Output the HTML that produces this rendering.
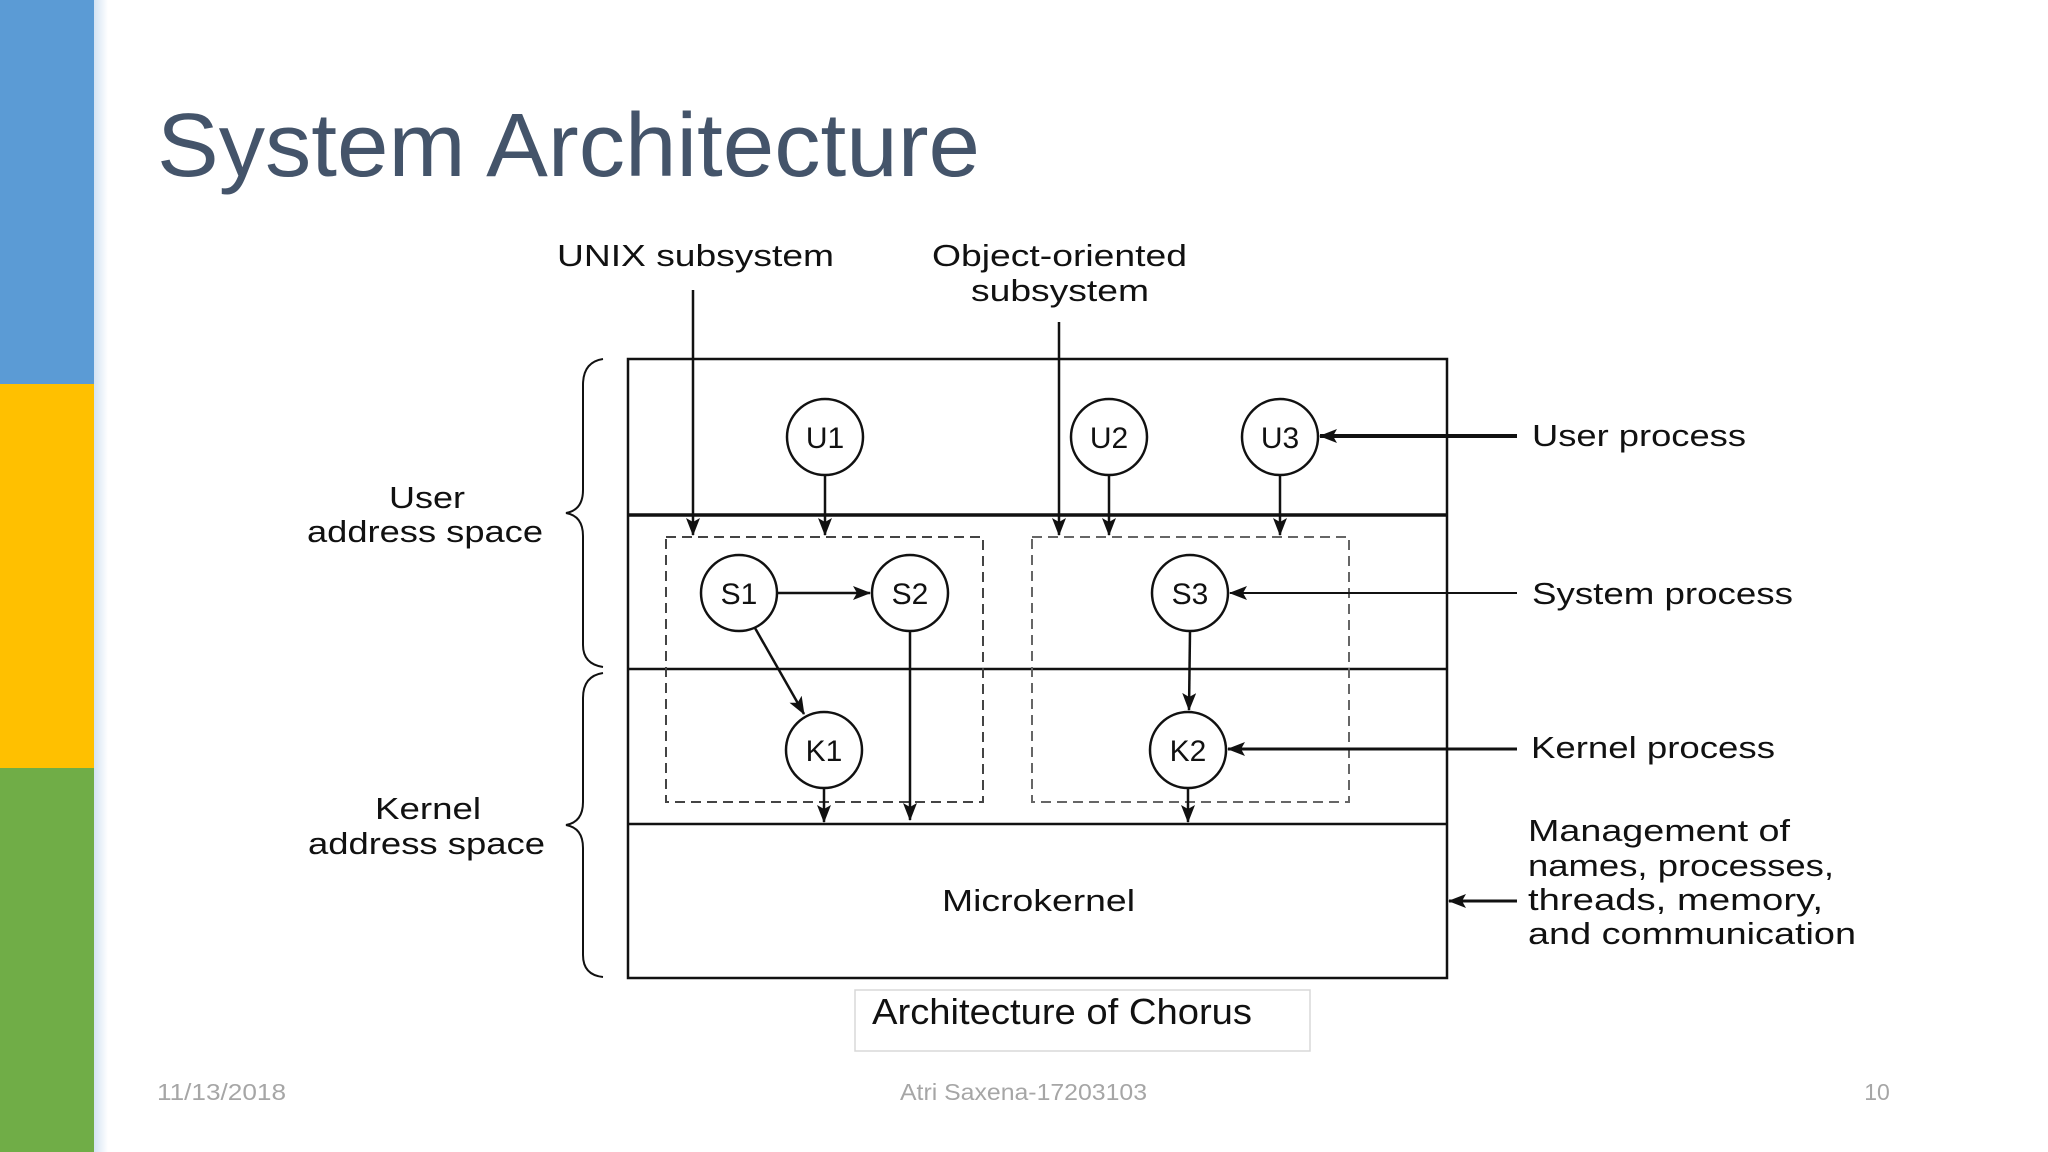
<!DOCTYPE html>
<html><head><meta charset="utf-8"><style>
html,body{margin:0;padding:0;background:#fff;}
svg{display:block;}
</style></head><body>
<svg width="2048" height="1152" viewBox="0 0 2048 1152" xmlns="http://www.w3.org/2000/svg">
<defs>
<marker id="a" markerWidth="18" markerHeight="14" refX="17" refY="7" orient="auto" markerUnits="userSpaceOnUse">
<path d="M0,0 L18,7 L0,14 L4,7 Z" fill="#111"/>
</marker>
<linearGradient id="fade" x1="0" x2="1" y1="0" y2="0">
<stop offset="0" stop-color="#c9dcf0"/><stop offset="1" stop-color="#fff"/>
</linearGradient>
</defs>
<rect width="2048" height="1152" fill="#fff"/>
<rect x="0" y="0" width="94" height="384" fill="#5b9bd5"/>
<rect x="0" y="384" width="94" height="384" fill="#ffc000"/>
<rect x="0" y="768" width="94" height="384" fill="#70ad47"/>
<rect x="94" y="0" width="14" height="1152" fill="url(#fade)" opacity="0.8"/>

<text x="157" y="176" font-family="Liberation Sans, sans-serif" font-size="90" fill="#44546a" textLength="823" lengthAdjust="spacingAndGlyphs">System Architecture</text>

<g font-family="Liberation Sans, sans-serif" font-size="31" fill="#111" stroke="none" lengthAdjust="spacingAndGlyphs">
<text x="557" y="266" textLength="277" lengthAdjust="spacingAndGlyphs">UNIX subsystem</text>
<text x="932" y="266" textLength="255" lengthAdjust="spacingAndGlyphs">Object-oriented</text>
<text x="971" y="301" textLength="178" lengthAdjust="spacingAndGlyphs">subsystem</text>
<text x="389" y="508" textLength="76" lengthAdjust="spacingAndGlyphs">User</text>
<text x="307" y="542" textLength="236" lengthAdjust="spacingAndGlyphs">address space</text>
<text x="375" y="819" textLength="106" lengthAdjust="spacingAndGlyphs">Kernel</text>
<text x="308" y="854" textLength="237" lengthAdjust="spacingAndGlyphs">address space</text>
<text x="1532" y="446" textLength="214" lengthAdjust="spacingAndGlyphs">User process</text>
<text x="1532" y="604" textLength="261" lengthAdjust="spacingAndGlyphs">System process</text>
<text x="1531" y="758" textLength="244" lengthAdjust="spacingAndGlyphs">Kernel process</text>
<text x="1528" y="841" textLength="262" lengthAdjust="spacingAndGlyphs">Management of</text>
<text x="1528" y="876" textLength="306" lengthAdjust="spacingAndGlyphs">names, processes,</text>
<text x="1528" y="910" textLength="295" lengthAdjust="spacingAndGlyphs">threads, memory,</text>
<text x="1528" y="944" textLength="328" lengthAdjust="spacingAndGlyphs">and communication</text>
<text x="942" y="911" textLength="193" lengthAdjust="spacingAndGlyphs">Microkernel</text>
</g>

<g fill="none" stroke="#111" stroke-width="2.5">
<rect x="628" y="359" width="819" height="619"/>
<line x1="628" y1="515" x2="1447" y2="515" stroke-width="3.5"/>
<line x1="628" y1="669" x2="1447" y2="669"/>
<line x1="628" y1="824" x2="1447" y2="824"/>
<rect x="666" y="537" width="317" height="265" stroke-dasharray="10,6" stroke="#444" stroke-width="2"/>
<rect x="1032" y="537" width="317" height="265" stroke-dasharray="10,6" stroke="#666" stroke-width="2"/>
<path d="M603,359 Q583,362 583,385 L583,490 Q583,510 566,513 Q583,516 583,536 L583,645 Q583,664 603,667" stroke-width="2"/>
<path d="M603,673 Q583,676 583,698 L583,802 Q583,822 566,825 Q583,828 583,848 L583,955 Q583,975 603,977" stroke-width="2"/>
</g>

<g fill="#fff" stroke="#111" stroke-width="2.5">
<circle cx="825" cy="437" r="38"/>
<circle cx="1109" cy="437" r="38"/>
<circle cx="1280" cy="437" r="38"/>
<circle cx="739" cy="593" r="38"/>
<circle cx="910" cy="593" r="38"/>
<circle cx="1190" cy="593" r="38"/>
<circle cx="824" cy="750" r="38"/>
<circle cx="1188" cy="750" r="38"/>
</g>
<g font-family="Liberation Sans, sans-serif" font-size="30" fill="#111" text-anchor="middle">
<text x="825" y="448">U1</text>
<text x="1109" y="448">U2</text>
<text x="1280" y="448">U3</text>
<text x="739" y="604">S1</text>
<text x="910" y="604">S2</text>
<text x="1190" y="604">S3</text>
<text x="824" y="761">K1</text>
<text x="1188" y="761">K2</text>
</g>

<g stroke="#111" stroke-width="2.5" marker-end="url(#a)" fill="none">
<line x1="693" y1="290" x2="693" y2="535"/>
<line x1="1059" y1="322" x2="1059" y2="535"/>
<line x1="825" y1="475" x2="825" y2="535"/>
<line x1="1109" y1="475" x2="1109" y2="535"/>
<line x1="1280" y1="475" x2="1280" y2="535"/>
<line x1="777" y1="593" x2="870" y2="593"/>
<line x1="755" y1="628" x2="804" y2="714"/>
<line x1="910" y1="631" x2="910" y2="820"/>
<line x1="1190" y1="631" x2="1189" y2="710"/>
<line x1="824" y1="788" x2="824" y2="822"/>
<line x1="1188" y1="788" x2="1188" y2="822"/>
<line x1="1517" y1="436" x2="1320" y2="436" stroke-width="4"/>
<line x1="1517" y1="593" x2="1230" y2="593" stroke-width="2"/>
<line x1="1517" y1="749" x2="1228" y2="749" stroke-width="3"/>
<line x1="1517" y1="901" x2="1449" y2="901" stroke-width="3"/>
</g>

<rect x="855" y="990" width="455" height="61" fill="#fff" stroke="#d8d8d8" stroke-width="1.5"/>
<text x="872" y="1024" font-family="Liberation Sans, sans-serif" font-size="36" fill="#111" textLength="380" lengthAdjust="spacingAndGlyphs">Architecture of Chorus</text>

<g font-family="Liberation Sans, sans-serif" font-size="23" fill="#a6a6a6">
<text x="157" y="1100" textLength="129" lengthAdjust="spacingAndGlyphs">11/13/2018</text>
<text x="900" y="1100" textLength="247" lengthAdjust="spacingAndGlyphs">Atri Saxena-17203103</text>
<text x="1877" y="1100" text-anchor="middle">10</text>
</g>
</svg>
</body></html>
